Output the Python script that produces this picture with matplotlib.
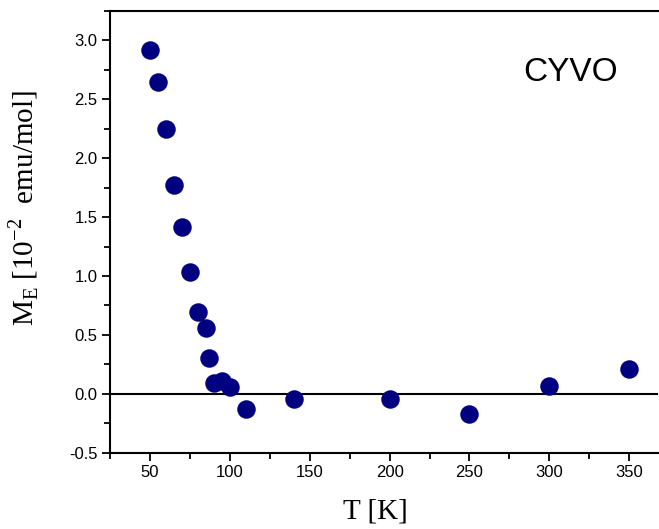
import matplotlib
matplotlib.use("Agg")
import matplotlib.pyplot as plt
from matplotlib.ticker import MultipleLocator

# Temperature (K) and excess magnetization M_E (10^-2 emu/mol)
temperature = [50, 55, 60, 65, 70, 75, 80, 85, 87, 90, 95, 100, 110, 140, 200, 250, 300, 350]
magnetization = [2.92, 2.65, 2.25, 1.77, 1.415, 1.035, 0.695, 0.56, 0.30, 0.09, 0.11, 0.062,
                 -0.13, -0.048, -0.04, -0.17, 0.068, 0.21]

x_ticks = [50, 100, 150, 200, 250, 300, 350]
y_ticks = [-0.5, 0.0, 0.5, 1.0, 1.5, 2.0, 2.5, 3.0]
sample_label = "CYVO"

plt.rcParams["mathtext.fontset"] = "custom"
plt.rcParams["mathtext.rm"] = "Liberation Serif"
plt.rcParams["axes.unicode_minus"] = False

W, H = 659, 529
fig = plt.figure(figsize=(W / 100, H / 100), dpi=100)
left, right, top, bottom = 110, 658, 11, 452.7
ax = fig.add_axes([left / W, 1 - bottom / H, (right - left) / W, (bottom - top) / H])

ax.axhline(0, color="black", lw=1.5, zorder=1)
ax.plot(temperature, magnetization, "o", color="#000080", ms=12.3, mec="#000080", zorder=3,
        clip_on=False)

ax.set_xlim(25, 368)
ax.set_ylim(-0.5, 3.25)
ax.set_xticks(x_ticks)
ax.set_yticks(y_ticks)
ax.xaxis.set_minor_locator(MultipleLocator(25))
ax.yaxis.set_minor_locator(MultipleLocator(0.25))
ax.set_yticklabels([f"{v:.1f}" for v in y_ticks])

for side in ("left", "bottom", "top"):
    ax.spines[side].set_linewidth(1.5)
ax.spines["right"].set_visible(False)

ax.tick_params(axis="both", which="major", direction="out", length=6, width=1.3,
               labelsize=12, pad=3)
ax.tick_params(axis="both", which="minor", direction="out", length=4, width=1.3)
ax.tick_params(axis="x", which="both", top=False)
for lbl in ax.get_xticklabels() + ax.get_yticklabels():
    lbl.set_fontfamily("Liberation Sans")

ax.set_xlabel("T [K]", fontfamily="Liberation Serif", fontsize=21)
ax.set_ylabel(r"M$_\mathregular{E}$ [10$^\mathregular{-2}$  emu/mol]",
              fontfamily="Liberation Serif", fontsize=21)
ax.xaxis.set_label_coords(0.4836, -0.104)
ax.yaxis.set_label_coords(-0.126, 0.554)

ax.text(523 / W, 1 - 81 / H, sample_label, transform=fig.transFigure, fontsize=24,
        fontfamily="Liberation Sans", ha="left", va="baseline")

fig.savefig("out.png", dpi=100)
